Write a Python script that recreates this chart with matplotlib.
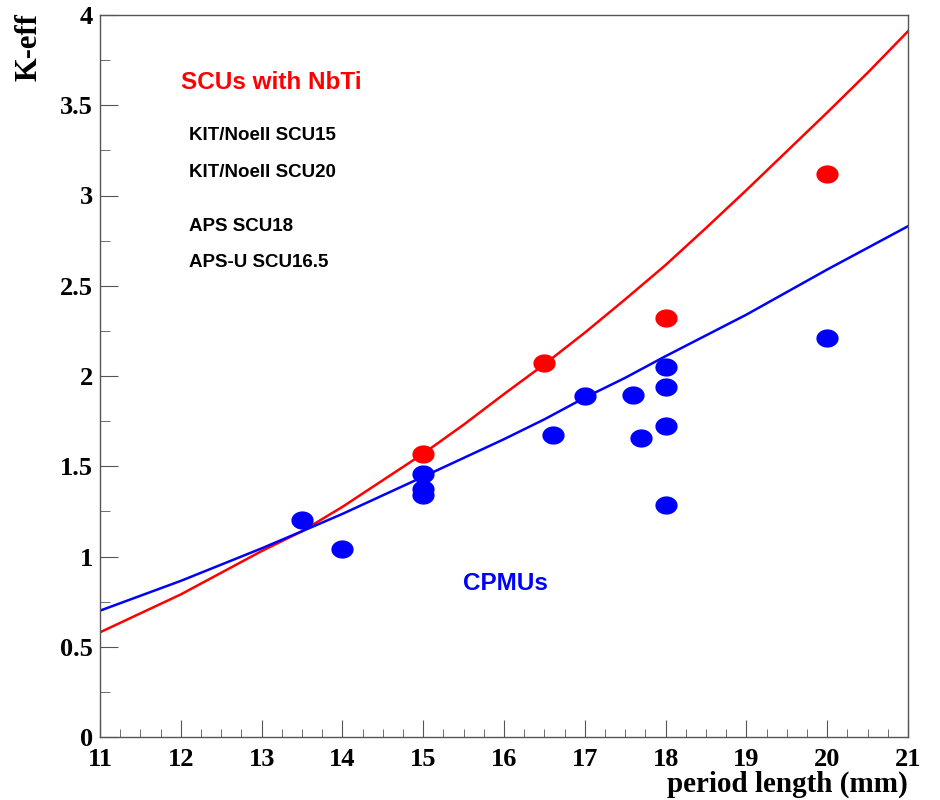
import numpy as np
import matplotlib
matplotlib.use("Agg")
import matplotlib.pyplot as plt
from matplotlib.path import Path
from matplotlib.ticker import MultipleLocator, FuncFormatter

# measured points (period length mm, K-eff)
scu_x = [15, 16.5, 18, 20]
scu_k = [1.57, 2.07, 2.32, 3.12]

cpmu_x = [13.5, 14, 15, 15, 15, 16.6, 17, 17.6, 17.7, 18, 18, 18, 18, 20]
cpmu_k = [1.20, 1.04, 1.457, 1.374, 1.34, 1.673, 1.889, 1.895, 1.656, 2.05, 1.94, 1.723, 1.285, 2.21]

# fit curves
fit_x = [11, 12, 13, 13.5, 14, 15, 15.5, 16, 16.5, 17, 17.5, 18, 18.5, 19, 19.5, 20, 20.5, 21]
scu_fit = [0.58, 0.79, 1.03, 1.14, 1.275, 1.57, 1.73, 1.90, 2.065, 2.24, 2.425, 2.615, 2.82, 3.03,
           3.245, 3.46, 3.68, 3.91]
cpmu_fit = [0.70, 0.865, 1.045, 1.14, 1.236, 1.442, 1.546, 1.65, 1.76, 1.88, 1.99, 2.11, 2.225, 2.34,
            2.465, 2.59, 2.71, 2.83]

labels = ["KIT/Noell SCU15", "KIT/Noell SCU20", "APS SCU18", "APS-U SCU16.5"]
label_y = [3.33, 3.13, 2.826, 2.63]

# slightly flattened dot, like the stretched ROOT output
t = np.linspace(0, 2 * np.pi, 60)
ell = Path(np.column_stack([np.cos(t), 0.82 * np.sin(t)]), closed=True)

fig = plt.figure(figsize=(9.4, 8), dpi=100)
ax = fig.add_axes([0.1064, 0.07875, 0.8596, 0.9025])

ax.plot(fit_x, scu_fit, color="red", lw=1.8)
ax.plot(fit_x, cpmu_fit, color="blue", lw=1.8)
ax.plot(cpmu_x, cpmu_k, ls="none", marker=ell, ms=16, color="blue", mec="none")
ax.plot(scu_x, scu_k, ls="none", marker=ell, ms=16, color="red", mec="none")

ax.set_xlim(11, 21)
ax.set_ylim(0, 4)
ax.xaxis.set_major_locator(MultipleLocator(1))
ax.xaxis.set_minor_locator(MultipleLocator(0.25))
ax.yaxis.set_major_locator(MultipleLocator(0.5))
ax.yaxis.set_minor_locator(MultipleLocator(0.25))
ax.yaxis.set_major_formatter(FuncFormatter(lambda v, p: "%g" % v))
ax.tick_params(which="both", direction="in", top=False, right=False, color="#555555")
ax.tick_params(axis="y", which="major", length=13, pad=5)
ax.tick_params(axis="y", which="minor", length=7)
ax.tick_params(axis="x", which="major", length=12, pad=8)
ax.tick_params(axis="x", which="minor", length=6)
for s in ax.spines.values():
    s.set_color("#555555")
    s.set_linewidth(1.0)

for lab in ax.get_xticklabels() + ax.get_yticklabels():
    lab.set_fontfamily("Liberation Serif")
    lab.set_fontweight("bold")
    lab.set_fontsize(19)

fig.text(0.031, 0.984, "K-eff", rotation=90, ha="center", va="top",
         family="Liberation Serif", weight="bold", size=22)
fig.text(0.966, 0.002, "period length (mm)", ha="right", va="bottom",
         family="Liberation Serif", weight="bold", size=21)

sans = "Liberation Sans"
ax.text(12.0, 3.625, "SCUs with NbTi", color="red", family=sans, weight="bold", fontsize=17.5, va="center")
for s, y in zip(labels, label_y):
    ax.text(12.1, y, s, color="black", family=sans, weight="bold", fontsize=13.5, va="center")
ax.text(15.49, 0.853, "CPMUs", color="blue", family=sans, weight="bold", fontsize=17.5, va="center")

fig.savefig("out.png", dpi=100)
